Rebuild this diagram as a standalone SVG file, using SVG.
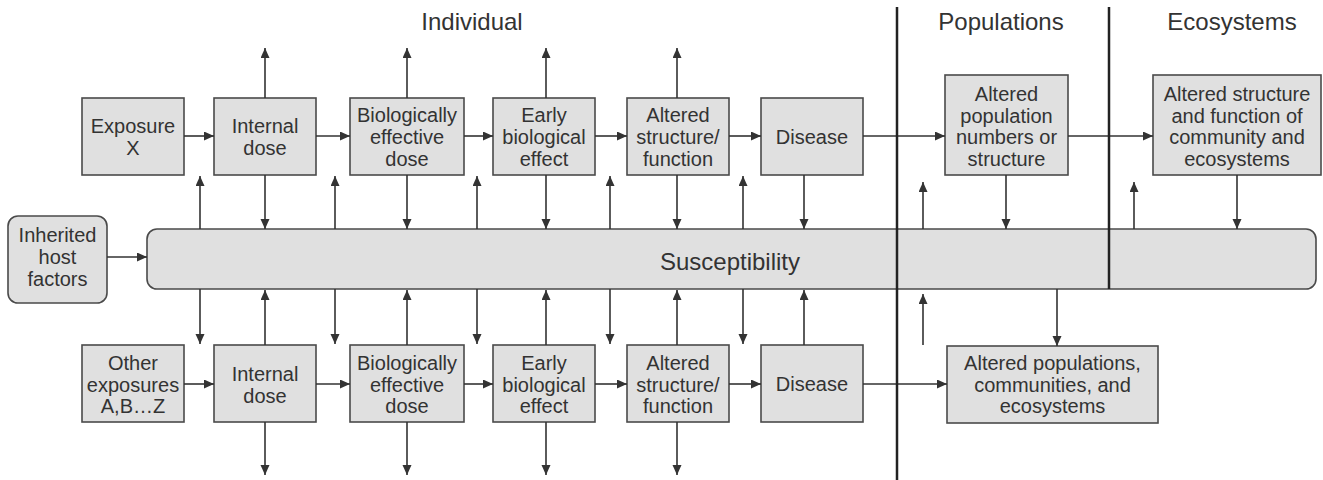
<svg xmlns="http://www.w3.org/2000/svg" width="1323" height="480" viewBox="0 0 1323 480">
<style>
.box{fill:#e0e0e0;stroke:#4a4a4a;stroke-width:1.6}
.t{font-family:"Liberation Sans",Arial,sans-serif;font-size:20px;fill:#333;text-anchor:middle}
.h{font-family:"Liberation Sans",Arial,sans-serif;font-size:24px;fill:#333;text-anchor:middle}
.c{stroke:#333;stroke-width:1.6;fill:none;marker-end:url(#ah)}
.div{stroke:#222;stroke-width:2.5}
</style>
<defs>
<marker id="ah" markerUnits="userSpaceOnUse" markerWidth="11" markerHeight="10" refX="10" refY="4.5" orient="auto">
<path d="M0,0 L10,4.5 L0,9 z" fill="#333"/>
</marker>
</defs>
<rect width="1323" height="480" fill="#fff"/>

<g id="headers">
<text class="h" x="472" y="30">Individual</text>
<text class="h" x="1001" y="30">Populations</text>
<text class="h" x="1232" y="30">Ecosystems</text>
</g>

<g id="band">
<rect class="box" x="147" y="229" width="1169" height="60" rx="10"/>
<text class="h" x="730" y="270">Susceptibility</text>
</g>

<g id="inherited">
<rect class="box" x="8" y="216" width="99" height="87" rx="10"/>
<text class="t" x="57.5" y="242">Inherited</text>
<text class="t" x="57.5" y="264">host</text>
<text class="t" x="57.5" y="286">factors</text>
</g>

<g id="top-exposure"><rect class="box" x="82" y="98" width="102" height="77"/>
<text class="t" x="133" y="133">Exposure</text><text class="t" x="133" y="155">X</text></g>
<g id="top-internal"><rect class="box" x="214" y="98" width="102" height="77"/>
<text class="t" x="265" y="133">Internal</text><text class="t" x="265" y="155">dose</text></g>
<g id="top-bio"><rect class="box" x="350" y="98" width="114" height="77"/>
<text class="t" x="407" y="122">Biologically</text><text class="t" x="407" y="144">effective</text><text class="t" x="407" y="166">dose</text></g>
<g id="top-early"><rect class="box" x="493" y="98" width="102" height="77"/>
<text class="t" x="544" y="122">Early</text><text class="t" x="544" y="144">biological</text><text class="t" x="544" y="166">effect</text></g>
<g id="top-altered"><rect class="box" x="627" y="98" width="102" height="77"/>
<text class="t" x="678" y="122">Altered</text><text class="t" x="678" y="144">structure/</text><text class="t" x="678" y="166">function</text></g>
<g id="top-disease"><rect class="box" x="761" y="98" width="102" height="77"/>
<text class="t" x="812" y="144">Disease</text></g>
<g id="pop"><rect class="box" x="945" y="75" width="123" height="100"/>
<text class="t" x="1006.5" y="101">Altered</text><text class="t" x="1006.5" y="123">population</text><text class="t" x="1006.5" y="144">numbers or</text><text class="t" x="1006.5" y="166">structure</text></g>
<g id="eco"><rect class="box" x="1153" y="75" width="168" height="100"/>
<text class="t" x="1237" y="101">Altered structure</text><text class="t" x="1237" y="123">and function of</text><text class="t" x="1237" y="144">community and</text><text class="t" x="1237" y="166">ecosystems</text></g>

<g id="bot-exposure"><rect class="box" x="82" y="345" width="102" height="77"/>
<text class="t" x="133" y="370">Other</text><text class="t" x="133" y="392">exposures</text><text class="t" x="133" y="413">A,B…Z</text></g>
<g id="bot-internal"><rect class="box" x="214" y="345" width="102" height="77"/>
<text class="t" x="265" y="381">Internal</text><text class="t" x="265" y="403">dose</text></g>
<g id="bot-bio"><rect class="box" x="350" y="345" width="114" height="77"/>
<text class="t" x="407" y="370">Biologically</text><text class="t" x="407" y="392">effective</text><text class="t" x="407" y="413">dose</text></g>
<g id="bot-early"><rect class="box" x="493" y="345" width="102" height="77"/>
<text class="t" x="544" y="370">Early</text><text class="t" x="544" y="392">biological</text><text class="t" x="544" y="413">effect</text></g>
<g id="bot-altered"><rect class="box" x="627" y="345" width="102" height="77"/>
<text class="t" x="678" y="370">Altered</text><text class="t" x="678" y="392">structure/</text><text class="t" x="678" y="413">function</text></g>
<g id="bot-disease"><rect class="box" x="761" y="345" width="102" height="77"/>
<text class="t" x="812" y="391">Disease</text></g>
<g id="bot-eco"><rect class="box" x="947" y="346" width="211" height="77"/>
<text class="t" x="1052.5" y="370">Altered populations,</text><text class="t" x="1052.5" y="392">communities, and</text><text class="t" x="1052.5" y="413">ecosystems</text></g>

<g id="connectors">
<!-- top row horizontal -->
<line class="c" x1="184" y1="136" x2="214" y2="136"/>
<line class="c" x1="316" y1="136" x2="350" y2="136"/>
<line class="c" x1="464" y1="136" x2="493" y2="136"/>
<line class="c" x1="595" y1="136" x2="627" y2="136"/>
<line class="c" x1="729" y1="136" x2="761" y2="136"/>
<line class="c" x1="863" y1="136" x2="945" y2="136"/>
<line class="c" x1="1068" y1="136" x2="1153" y2="136"/>
<!-- bottom row horizontal -->
<line class="c" x1="184" y1="384" x2="214" y2="384"/>
<line class="c" x1="316" y1="384" x2="350" y2="384"/>
<line class="c" x1="464" y1="384" x2="493" y2="384"/>
<line class="c" x1="595" y1="384" x2="627" y2="384"/>
<line class="c" x1="729" y1="384" x2="761" y2="384"/>
<line class="c" x1="863" y1="384" x2="947" y2="384"/>
<!-- inherited -->
<line class="c" x1="107" y1="257" x2="147" y2="257"/>
<!-- top outward arrows -->
<line class="c" x1="265" y1="98" x2="265" y2="48"/>
<line class="c" x1="407" y1="98" x2="407" y2="48"/>
<line class="c" x1="546" y1="98" x2="546" y2="48"/>
<line class="c" x1="677" y1="98" x2="677" y2="48"/>
<!-- top boxes down to band -->
<line class="c" x1="265" y1="175" x2="265" y2="229"/>
<line class="c" x1="407" y1="175" x2="407" y2="229"/>
<line class="c" x1="546" y1="175" x2="546" y2="229"/>
<line class="c" x1="677" y1="175" x2="677" y2="229"/>
<line class="c" x1="804" y1="175" x2="804" y2="229"/>
<line class="c" x1="1006" y1="175" x2="1006" y2="229"/>
<line class="c" x1="1237" y1="175" x2="1237" y2="229"/>
<!-- band up -->
<line class="c" x1="200" y1="229" x2="200" y2="176"/>
<line class="c" x1="335" y1="229" x2="335" y2="176"/>
<line class="c" x1="477" y1="229" x2="477" y2="176"/>
<line class="c" x1="610" y1="229" x2="610" y2="176"/>
<line class="c" x1="743" y1="229" x2="743" y2="176"/>
<line class="c" x1="923" y1="229" x2="923" y2="182"/>
<line class="c" x1="1134" y1="229" x2="1134" y2="182"/>
<!-- band down -->
<line class="c" x1="200" y1="289" x2="200" y2="344"/>
<line class="c" x1="335" y1="289" x2="335" y2="344"/>
<line class="c" x1="477" y1="289" x2="477" y2="344"/>
<line class="c" x1="610" y1="289" x2="610" y2="344"/>
<line class="c" x1="743" y1="289" x2="743" y2="344"/>
<line class="c" x1="1057" y1="289" x2="1057" y2="346"/>
<!-- bottom boxes up to band -->
<line class="c" x1="265" y1="345" x2="265" y2="290"/>
<line class="c" x1="407" y1="345" x2="407" y2="290"/>
<line class="c" x1="546" y1="345" x2="546" y2="290"/>
<line class="c" x1="677" y1="345" x2="677" y2="290"/>
<line class="c" x1="804" y1="345" x2="804" y2="290"/>
<line class="c" x1="923" y1="345" x2="923" y2="294"/>
<!-- bottom outward arrows -->
<line class="c" x1="265" y1="422" x2="265" y2="475"/>
<line class="c" x1="407" y1="422" x2="407" y2="475"/>
<line class="c" x1="546" y1="422" x2="546" y2="475"/>
<line class="c" x1="677" y1="422" x2="677" y2="475"/>
</g>

<g id="dividers">
<line class="div" x1="897" y1="7" x2="897" y2="480"/>
<line class="div" x1="1109" y1="7" x2="1109" y2="289"/>
</g>
</svg>
